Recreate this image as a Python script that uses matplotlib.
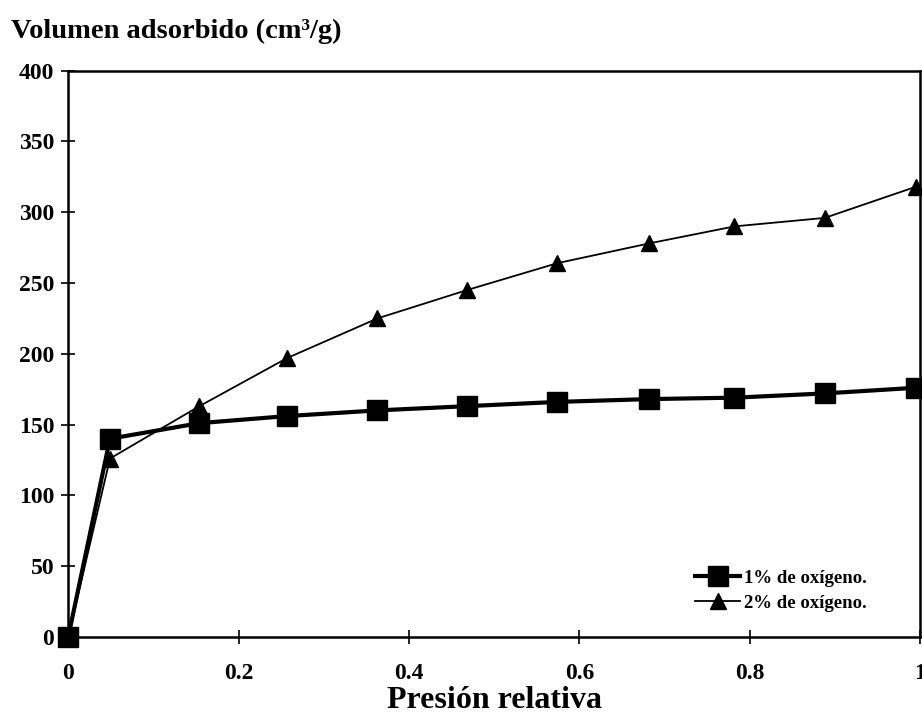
import matplotlib.pyplot as plt

# Presion relativa (shared by both series)
presion = [0, 0.049, 0.154, 0.257, 0.363, 0.468, 0.574, 0.682, 0.782, 0.888, 0.995]

# Volumen adsorbido (cm3/g)
oxigeno_1 = [0, 140, 151, 156, 160, 163, 166, 168, 169, 172, 176]
oxigeno_2 = [0, 126, 163, 197, 225, 245, 264, 278, 290, 296, 318]

x_ticks = [0, 0.2, 0.4, 0.6, 0.8, 1]
x_labels = ["0", "0.2", "0.4", "0.6", "0.8", "1"]
y_ticks = [0, 50, 100, 150, 200, 250, 300, 350, 400]

plt.rcParams["font.family"] = ["Liberation Serif", "DejaVu Serif"]
plt.rcParams["font.weight"] = "bold"

fig = plt.figure(figsize=(9.22, 7.14), dpi=100)
ax = fig.add_axes([0.074, 0.108, 0.924, 0.793])

ax.plot(presion, oxigeno_1, color="black", marker="s", markersize=14,
        linewidth=3, label="1% de oxígeno.", clip_on=False, zorder=3)
ax.plot(presion, oxigeno_2, color="black", marker="^", markersize=11,
        linewidth=1.3, label="2% de oxígeno.", clip_on=False, zorder=3)

ax.set_xlim(0, 1)
ax.set_ylim(0, 400)
ax.set_xticks(x_ticks)
ax.set_xticklabels(x_labels)
ax.set_yticks(y_ticks)
ax.tick_params(direction="inout", length=10, width=1.2, labelsize=17, pad=5)
ax.tick_params(axis="x", pad=14)
for s in ax.spines.values():
    s.set_linewidth(1.8)

ax.set_xlabel("Presión relativa", fontsize=23, fontweight="bold", labelpad=1)
fig.text(0.012, 0.947, "Volumen adsorbido (cm³/g)", fontsize=20.5,
         fontweight="bold", ha="left", va="baseline")

leg = ax.legend(loc="lower left", bbox_to_anchor=(0.716, 0.015), frameon=False,
                fontsize=13.5, handlelength=2.4, labelspacing=0.4, handletextpad=0.2)

fig.savefig("out.png", dpi=100)
